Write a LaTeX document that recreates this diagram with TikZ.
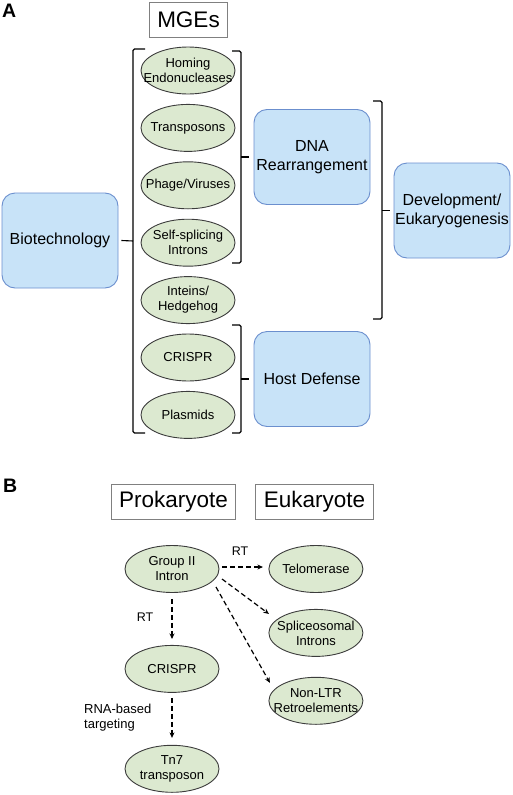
\documentclass[tikz,border=0pt]{standalone}
\usepackage{fontspec}
\setmainfont{Liberation Sans}
\usetikzlibrary{
  shapes.geometric, % Shape "ellipse"
  arrows.meta,
  positioning,      % Function "of" (e.g. [below=of x])
}
\definecolor{roleblue}{HTML}{C8E3F8}
\definecolor{roleedge}{HTML}{6B8FCE}
\definecolor{mgegreen}{HTML}{DCE9D0}
\definecolor{mgeedge}{HTML}{3C3C3C}
\tikzset{
  >={Stealth[length=5.5pt,width=5pt]},
  mge/.style={
    ellipse,
    draw=mgeedge,
    fill=mgegreen,
    line width=0.9pt,
    minimum width=94pt,
    minimum height=47pt,
    inner xsep=-25pt,
    inner ysep=-8pt,
    align=center,
    font=\fontsize{13}{15}\selectfont
  },
  role/.style={
    draw=roleedge,
    fill=roleblue,
    line width=0.9pt,
    rounded corners=13pt,
    minimum width=116pt,
    minimum height=95pt,
    inner sep=1pt,
    align=center,
    font=\fontsize{16}{19}\selectfont,
    rectangle
  },
  head/.style={
    draw=black!50,
    line width=1pt,
    inner xsep=8pt,
    inner ysep=0pt,
    minimum height=35pt,
    font=\fontsize{22.5}{26}\selectfont,
    rectangle
  },
  panel/.style={
    inner sep=0pt,
    font=\fontsize{19.5}{22}\selectfont\bfseries
  },
  brk/.style={
    line width=1.1pt,
    rounded corners=1.5pt
  },
  link/.style={
    ->,
    dash pattern=on 5pt off 3pt,
    line width=1.2pt
  },
  lbl/.style={
    inner sep=0pt,
    align=left
  }
}
\begin{document}
\begin{tikzpicture}[x=1pt,y=-1pt]
\useasboundingbox (0,0) rectangle (512,795);
% Panel A
\node[panel,anchor=north west] (pa) at (2,3.5) {A};
\node[head] (mges) at (188.5,20) {MGEs};
\node[mge] (hom)                    at (188,70.5) {Homing\\Endonucleases};
\node[mge] (trn)  [below=9.5pt of hom]  {Transposons};
\node[mge] (phg)  [below=9.5pt of trn]  {Phage/Viruses};
\node[mge] (ssi)  [below=9.5pt of phg]  {Self-splicing\\Introns};
\node[mge] (int)  [below=9.5pt of ssi]  {Inteins/\\Hedgehog};
\node[mge] (crA)  [below=9.5pt of int]  {CRISPR};
\node[mge] (pls)  [below=9.5pt of crA]  {Plasmids};
\node[role] (bio)  at (60,240.5)  {Biotechnology};
\node[role] (dna)  at (312,157)   {DNA\\Rearrangement};
\node[role] (dev)  at (452,210.5) {Development/\\Eukaryogenesis};
\node[role] (host) at (312,379)   {Host Defense};
% brackets
\draw[brk] (145,49) -| (133,433) -- (145,433);
\draw[brk] (133,241) -- ([xshift=3pt]bio.east);
\draw[brk] (232,51) -| (241,263) -- (232,263);
\draw[brk] (241,157) -- ([xshift=-5pt]dna.west);
\draw[brk] (373,101) -| (382,319) -- (373,319);
\draw[brk] (382,210.5) -- ([xshift=-4pt]dev.west);
\draw[brk] (232,325) -| (241,433) -- (232,433);
\draw[brk] (241,379) -- ([xshift=-5pt]host.west);
% Panel B
\node[panel,anchor=north west] (pb) at (3,479) {B};
\node[head] (pro) at (173.5,501.5) {Prokaryote};
\node[head] (euk) at (314.5,501.5) {Eukaryote};
\node[mge] (grp)                    at (172,569) {Group II\\Intron};
\node[mge] (crB)  [below=52pt of grp]  {CRISPR};
\node[mge] (tn7)  [below=52pt of crB]  {Tn7\\transposon};
\node[mge] (tel)  [right=49pt of grp]  {Telomerase};
\node[mge] (spl)  [below=16pt of tel]  {Spliceosomal\\Introns};
\node[mge] (ltr)  [below=20pt of spl]  {Non-LTR\\Retroelements};
\draw[link] ([shift={(50,-2)}]grp.center) -- ([shift={(-53,-2)}]tel.center);
\draw[link] ([shift={(50,10)}]grp.center) -- ([shift={(-47,-19)}]spl.center);
\draw[link] ([shift={(44,18)}]grp.center) -- ([shift={(-46,-18)}]ltr.center);
\draw[link,shorten <=6pt,shorten >=6pt] (grp) -- (crB);
\draw[link,shorten <=5pt,shorten >=7pt] (crB) -- (tn7);
\node[lbl,font=\fontsize{12.5}{15}\selectfont] (rt1) at (240,551) {RT};
\node[lbl,font=\fontsize{12.5}{15}\selectfont] (rt2) at (145,617) {RT};
\node[lbl,anchor=west,font=\fontsize{13}{15}\selectfont] (rna) at (84,717.5) {RNA-based\\targeting};
\end{tikzpicture}
\end{document}
